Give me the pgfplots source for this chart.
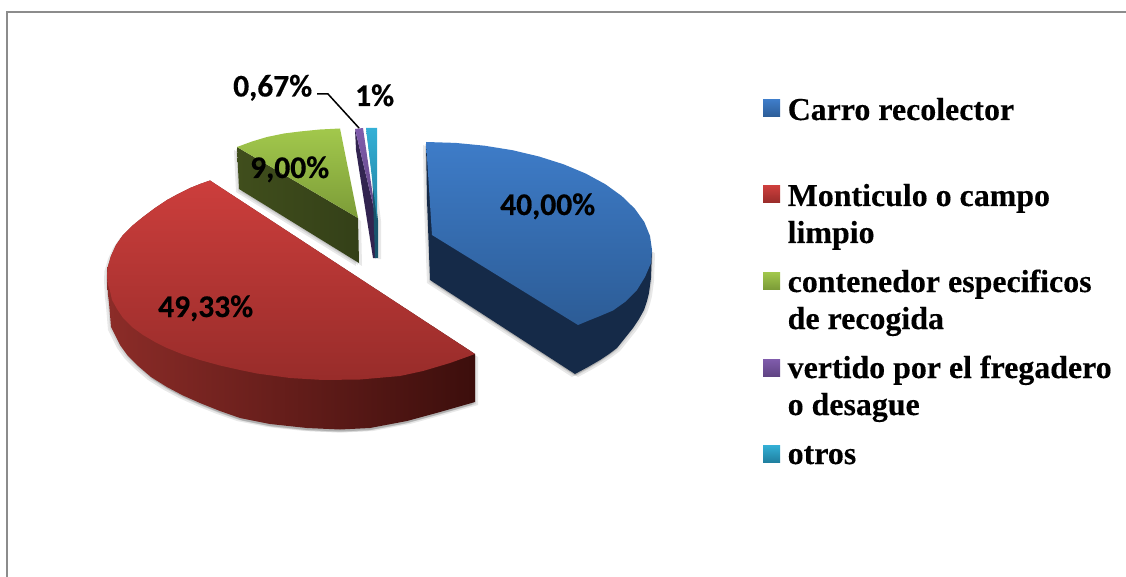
\documentclass[border=0pt]{standalone}
\usepackage{pgfplots}
\usepackage{pgfplotstable}
\usepackage{fontspec}
\pgfplotsset{compat=1.18}
\setmainfont{Liberation Serif}[BoldFeatures={FakeBold=0.3}]
\newfontfamily\lab{Carlito Bold}[FakeBold=0.4]
\tikzset{
  lbl/.style={anchor=base west,inner sep=0pt,font=\lab\fontsize{31.5}{31.5}\selectfont,text=black},
  leg/.style={anchor=base west,inner sep=0pt,font=\bfseries\fontsize{31.9}{31.9}\selectfont,text=black},
  sh/.style={draw=none,fill=black,opacity=0.09}}
\definecolor{frame}{HTML}{8C8C8C}
\definecolor{blueA}{RGB}{62,124,200}
\definecolor{blueB}{RGB}{44,92,150}
\definecolor{blueS}{RGB}{21,42,72}
\definecolor{redA}{RGB}{204,62,60}
\definecolor{redB}{RGB}{152,44,42}
\definecolor{redL}{RGB}{140,44,40}
\definecolor{redR}{RGB}{60,14,12}
\definecolor{greenA}{RGB}{162,200,76}
\definecolor{greenB}{RGB}{124,156,56}
\definecolor{greenL}{RGB}{64,78,28}
\definecolor{greenR}{RGB}{52,64,24}
\definecolor{purA}{RGB}{128,92,172}
\definecolor{purB}{RGB}{96,68,132}
\definecolor{purS}{RGB}{50,36,80}
\definecolor{cyanA}{RGB}{52,176,214}
\definecolor{cyanB}{RGB}{32,128,160}
\definecolor{cyanS}{RGB}{24,84,108}
\pgfplotstableread{
x y
426 142
427 200
430 280
575 374
588 367
600 360
609 354
617 348
625 338
633 328
639 319
644 310
647 301
649 293
651 278
652 250
}\blueside
\pgfplotstableread{
x y
426 142
455.5 142.9
484.5 145.7
512.5 150.2
539 156.5
563.6 164.3
585.8 173.6
605.3 184.2
621.7 196
634.8 208.7
644.3 222
650 236
652 250
651 263
645 277
637 290
625 302
613 310.5
600 316
590 320
578 325
432 235
}\bluetop
\pgfplotstableread{
x y
210 180.5
200 184
190 188
178 194
167 200
155 208
143 217
132 226
123 235
116 245
111 256
107.5 268
107 277
108 295
109 303
111 327
120 345
128 356
137 365
151 377
167 387
183 395.5
200 403
220 411
240 418
270 424
307 428
340 429.5
370 428
407 421
440 412
475 402
475 354
}\redside
\pgfplotstableread{
x y
210 180.5
200 184
190 188
178 194
167 200
155 208
143 217
132 226
123 235
116 245
111 256
107.5 268
107 277
108 285
110 291
112 300
117 309
123 318
132 327
143 335
155 342
167 348
183 354.5
200 360
220 365.5
240 370
257 373.5
290 378
323 380
360 379.5
400 376
423 371
450 363
475 354
}\redtop
\pgfplotstableread{
x y
237 147
239 189
359 263
358 218
}\greenside
\pgfplotstableread{
x y
237 147
252 141.5
267 137
284 133.5
300 131.5
320 129.5
340 128.5
358 218
}\greentop
\pgfplotstableread{
x y
355 129
356 150
373 258
376 258
376 217
}\purpleside
\pgfplotstableread{
x y
355 129
363 128
376 217
}\purpletop
\pgfplotstableread{
x y
366 128
372 165
375 258
378 258
378 220
}\cyanside
\pgfplotstableread{
x y
366 128
377 128
377 220
}\cyantop
\begin{document}
\begin{tikzpicture}
\path[use as bounding box] (0,0) rectangle (1126pt,577pt);
\begin{axis}[at={(0,0)},anchor=south west,scale only axis,width=1126pt,height=577pt,
  xmin=0,xmax=1126,ymin=0,ymax=577,y dir=reverse,axis lines=none,clip=false,
  every axis plot/.append style={draw=none,mark=none}]
% frame
\addplot[draw=frame,line width=2pt] coordinates {(7,577) (7,12) (1126,12)};
% soft shadows
\addplot[sh] table[x expr=\thisrow{x}+3,y expr=\thisrow{y}+3] {\blueside};
\addplot[sh] table[x expr=\thisrow{x}-3,y expr=\thisrow{y}+3] {\blueside};
\addplot[sh] table[x expr=\thisrow{x}+1,y expr=\thisrow{y}+2] {\blueside};
\addplot[sh] table[x expr=\thisrow{x}-1,y expr=\thisrow{y}+2] {\blueside};
\addplot[sh] table[x expr=\thisrow{x}+3,y expr=\thisrow{y}+3] {\redside};
\addplot[sh] table[x expr=\thisrow{x}-3,y expr=\thisrow{y}+3] {\redside};
\addplot[sh] table[x expr=\thisrow{x}+1,y expr=\thisrow{y}+2] {\redside};
\addplot[sh] table[x expr=\thisrow{x}-1,y expr=\thisrow{y}+2] {\redside};
\addplot[sh] table[x expr=\thisrow{x}+3,y expr=\thisrow{y}+3] {\greenside};
\addplot[sh] table[x expr=\thisrow{x}-3,y expr=\thisrow{y}+3] {\greenside};
\addplot[sh] table[x expr=\thisrow{x}-1,y expr=\thisrow{y}+2] {\greenside};
\addplot[sh] table[x expr=\thisrow{x}+3,y expr=\thisrow{y}+1] {\cyanside};
% green
\addplot[left color=greenL,right color=greenR] table[x=x,y=y] {\greenside};
\addplot[top color=greenA,bottom color=greenB] table[x=x,y=y] {\greentop};
% purple
\addplot[fill=purS] table[x=x,y=y] {\purpleside};
\addplot[top color=purA,bottom color=purB] table[x=x,y=y] {\purpletop};
% cyan
\addplot[fill=cyanS] table[x=x,y=y] {\cyanside};
\addplot[top color=cyanA,bottom color=cyanB] table[x=x,y=y] {\cyantop};
% blue
\addplot[fill=blueS] table[x=x,y=y] {\blueside};
\addplot[top color=blueA,bottom color=blueB] table[x=x,y=y] {\bluetop};
% red
\addplot[left color=redL,right color=redR] table[x=x,y=y] {\redside};
\addplot[top color=redA,bottom color=redB] table[x=x,y=y] {\redtop};
% leader
\addplot[draw=black,line width=1.5pt] coordinates {(317,94) (328,94) (359,128)};
% labels
\node[lbl] at (axis cs:500,215) {40,00\%};
\node[lbl] at (axis cs:158,317) {49,33\%};
\node[lbl] at (axis cs:250,178) {9,00\%};
\node[lbl] at (axis cs:233,96.5) {0,67\%};
\node[lbl] at (axis cs:355,106) {1\%};
% legend keys
\addplot[top color=blueA,bottom color=blueB] coordinates {(763,100) (780,100) (780,117) (763,117)};
\addplot[top color=redA,bottom color=redB] coordinates {(763,186) (780,186) (780,203) (763,203)};
\addplot[top color=greenA,bottom color=greenB] coordinates {(763,272) (780,272) (780,289) (763,289)};
\addplot[top color=purA,bottom color=purB] coordinates {(763,359) (780,359) (780,376) (763,376)};
\addplot[top color=cyanA,bottom color=cyanB] coordinates {(763,445) (780,445) (780,462) (763,462)};
% legend text
\node[leg] at (axis cs:787.5,120) {Carro recolector};
\node[leg] at (axis cs:787.5,206) {Monticulo o campo};
\node[leg] at (axis cs:787.5,243) {limpio};
\node[leg] at (axis cs:787.5,292) {contenedor especificos};
\node[leg] at (axis cs:787.5,329) {de recogida};
\node[leg] at (axis cs:787.5,378) {vertido por el fregadero};
\node[leg] at (axis cs:787.5,415) {o desague};
\node[leg] at (axis cs:787.5,464) {otros};
\end{axis}
\end{tikzpicture}
\end{document}
